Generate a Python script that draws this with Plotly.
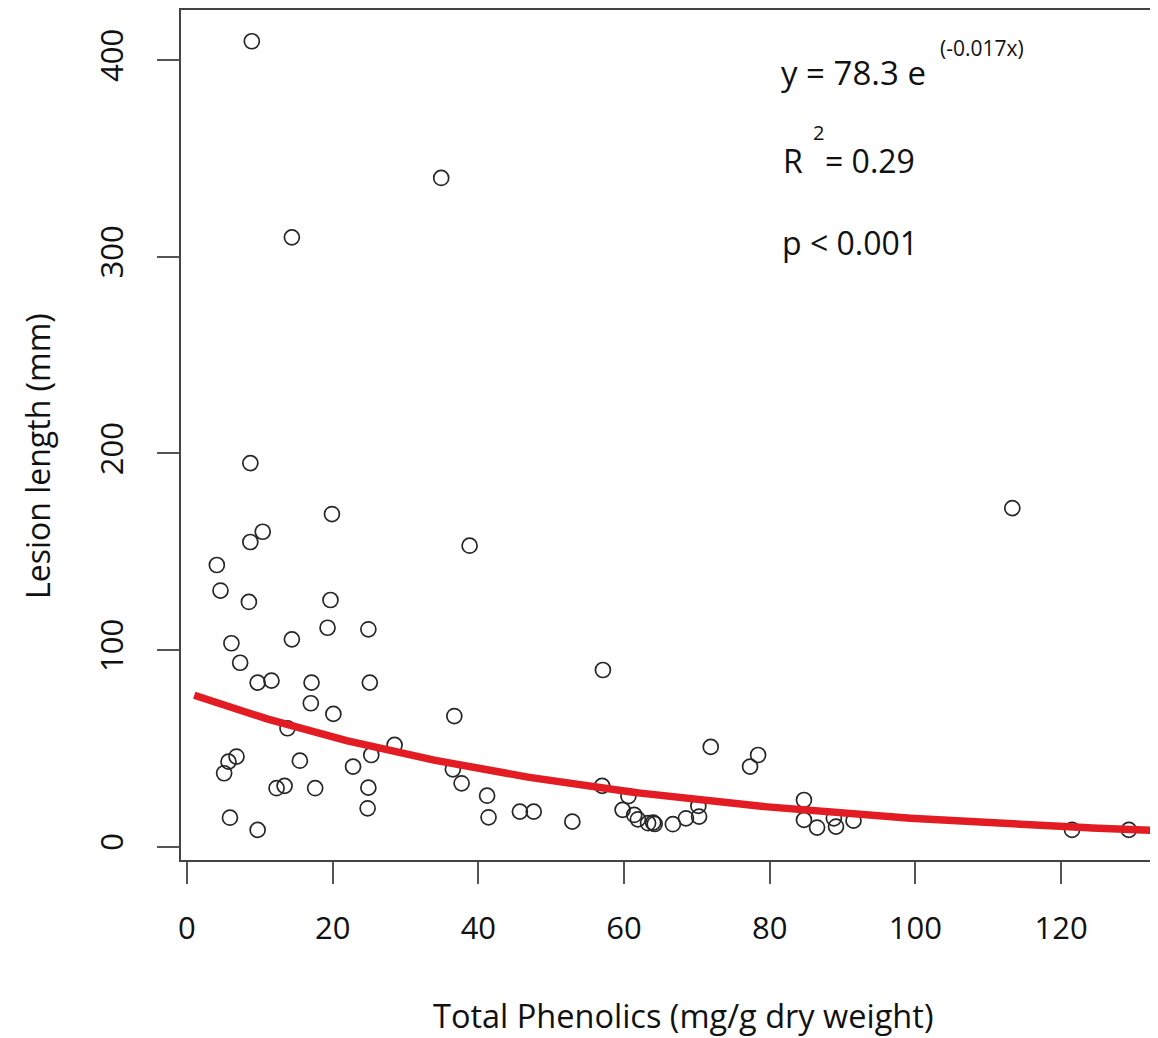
import numpy as np
import plotly.graph_objects as go

# Data
phenolics = [8.9, 34.9, 14.4, 8.7, 19.9, 10.4, 8.7, 38.8, 4.1, 4.6,
             8.5, 19.7, 19.3, 24.9, 14.4, 6.1, 7.3, 9.7, 11.6, 17.1,
             25.1, 17.0, 20.1, 36.7, 57.1, 13.8, 28.5, 25.3, 6.8, 5.7,
             5.1, 15.5, 22.8, 12.3, 13.4, 17.6, 24.9, 24.8, 5.9, 9.7,
             36.5, 37.7, 41.2, 41.4, 45.7, 47.6, 52.9, 57.0, 60.6, 59.8,
             61.4, 61.9, 63.3, 64.0, 64.2, 66.7, 68.5, 70.2, 70.3, 71.9,
             77.3, 78.4, 84.7, 84.7, 86.5, 88.8, 89.1, 91.5, 113.3, 121.5,
             129.3]
lesion = [409.5, 340.0, 309.8, 195.0, 169.1, 160.1, 154.9, 153.0, 143.2, 130.2,
          124.4, 125.4, 111.3, 110.5, 105.4, 103.4, 93.5, 83.4, 84.4, 83.4,
          83.4, 72.9, 67.5, 66.4, 89.8, 60.2, 51.7, 46.6, 45.8, 43.2,
          37.3, 43.7, 40.7, 29.7, 30.9, 29.7, 30.0, 19.5, 14.7, 8.5,
          39.3, 32.2, 25.9, 14.9, 17.8, 17.8, 12.7, 30.9, 25.7, 18.7,
          16.1, 13.9, 11.9, 12.2, 11.5, 11.4, 14.4, 20.7, 15.3, 50.7,
          40.7, 46.6, 23.7, 13.6, 9.7, 14.4, 10.2, 13.2, 172.1, 8.5,
          8.5]

# Fitted model printed on the chart: y = 78.3 e^(-0.017x)
FIT_A = 78.3
FIT_B = -0.017
FIT_X_START = 1.0
FIT_X_END = 134.0

x_ticks = [0, 20, 40, 60, 80, 100, 120]
y_ticks = [0, 100, 200, 300, 400]

X_TITLE = "Total Phenolics (mg/g dry weight)"
Y_TITLE = "Lesion length (mm)"

fit_x = np.linspace(FIT_X_START, FIT_X_END, 300)
fit_y = FIT_A * np.exp(FIT_B * fit_x)

FONT = "Open Sans, Noto Sans, DejaVu Sans, sans-serif"
TXT = "#111111"
OFF = 8  # page body margin
W, H = 1158 - OFF, 1038 - OFF
PL, PT, PB, PR = 181, 10, 860, 1158  # plot area in page pixels
L, T = PL - OFF, PT - OFF
B = H + OFF - PB
R = 0

fig = go.Figure()
fig.add_trace(go.Scatter(
    x=phenolics, y=lesion, mode="markers",
    marker=dict(symbol="circle-open", size=15, color="#262626",
                line=dict(width=1.7, color="#262626")),
    showlegend=False, hoverinfo="x+y"))
fig.add_trace(go.Scatter(
    x=fit_x, y=fit_y, mode="lines",
    line=dict(color="#e31c23", width=7.5),
    showlegend=False, hoverinfo="skip"))

fig.update_layout(
    width=W, height=H,
    margin=dict(l=L, r=R, t=T, b=B, pad=0),
    paper_bgcolor="white", plot_bgcolor="white",
    font=dict(family=FONT, size=30, color=TXT),
    xaxis=dict(range=[-0.82, 133.3], tickvals=x_ticks, ticktext=[str(v) for v in x_ticks],
               showgrid=False, zeroline=False, showline=True, mirror=True,
               linecolor="#444444", linewidth=2,
               ticks="outside", ticklen=22, tickwidth=2, tickcolor="#555555",
               ticklabelstandoff=18,
               tickfont=dict(size=31, family=FONT, color=TXT)),
    yaxis=dict(range=[-6.8, 425.4], tickvals=y_ticks, ticktext=[str(v) for v in y_ticks],
               showgrid=False, zeroline=False, showline=True, mirror=False,
               linecolor="#444444", linewidth=2,
               ticks="outside", ticklen=22, tickwidth=2, tickcolor="#555555",
               tickangle=-90, ticklabelstandoff=22,
               tickfont=dict(size=31, family=FONT, color=TXT)),
)

def px_x(p):
    return (p - PL) / (PR - PL)

def px_y(p):
    return 1 - (p - PT) / (PB - PT)

def note(text, xp, yp, size=32, xanchor="left", angle=0):
    return dict(text=text, x=px_x(xp), y=px_y(yp), xref="paper", yref="paper",
                xanchor=xanchor, yanchor="middle", showarrow=False, textangle=angle,
                font=dict(size=size, family=FONT, color=TXT))

ann = [
    note(X_TITLE, 683, 1015, size=32.5, xanchor="center"),
    note(Y_TITLE, 38, 456, size=32, xanchor="center", angle=-90),
    note("y = 78.3 e", 779, 73, size=33),
    note("(-0.017x)", 938, 48, size=21),
    note("R", 781, 160, size=32),
    note("2", 811, 132, size=20),
    note("= 0.29", 823, 160, size=32),
    note("p < 0.001", 780, 242, size=32),
]
fig.update_layout(annotations=ann)

fig.write_html("out.html")
